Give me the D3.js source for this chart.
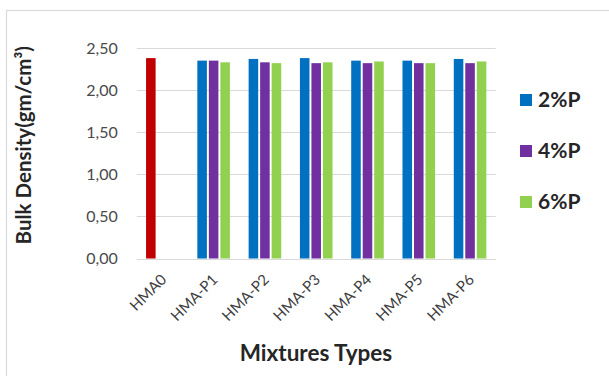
<!DOCTYPE html>
<html>
<head>
<meta charset="utf-8">
<script src="https://cdn.jsdelivr.net/npm/d3@7"></script>
<style>
  html, body { margin: 0; padding: 0; background: #fff; }
  svg { display: block; }
  text { font-family: Lato, "Open Sans", sans-serif; }
</style>
</head>
<body>
<svg id="chart" width="609" height="376"></svg>
<script>
// Bulk density of the control mix and the polymer-modified mixes
const categories = ["HMA0", "HMA-P1", "HMA-P2", "HMA-P3", "HMA-P4", "HMA-P5", "HMA-P6"];
const seriesNames = ["2%P", "4%P", "6%P"];
const p2 = [2.38, 2.35, 2.37, 2.38, 2.35, 2.35, 2.37];
const p4 = [null, 2.35, 2.33, 2.32, 2.32, 2.32, 2.32];
const p6 = [null, 2.33, 2.32, 2.33, 2.34, 2.32, 2.34];
const yTicks = [0, 0.5, 1.0, 1.5, 2.0, 2.5];
const seriesColors = ["#0070C0", "#7030A0", "#92D050"];
const controlColor = "#C00000";

const svg = d3.select("#chart");

// chart frame
svg.append("rect")
  .attr("x", 6.5).attr("y", 10.5)
  .attr("width", 640).attr("height", 400)
  .attr("fill", "none")
  .attr("stroke", "#D9D9D9")
  .attr("stroke-width", 1.2);

const plot = { left: 136.7, right: 495.7, top: 48, bottom: 258.5 };

const x0 = d3.scaleBand()
  .domain(categories)
  .range([plot.left, plot.right])
  .paddingInner(0.365)
  .paddingOuter(0.1825);

const x1 = d3.scaleBand()
  .domain(seriesNames)
  .range([0, x0.bandwidth()])
  .paddingInner(0.17);

const y = d3.scaleLinear().domain([0, 2.5]).range([plot.bottom, plot.top]);

// gridlines
svg.append("g")
  .selectAll("line")
  .data(yTicks)
  .join("line")
  .attr("x1", plot.left).attr("x2", plot.right)
  .attr("y1", d => Math.round(y(d)) + 0.5)
  .attr("y2", d => Math.round(y(d)) + 0.5)
  .attr("stroke", "#D9D9D9")
  .attr("stroke-width", 1.2);

// y axis labels (comma decimal separator)
const fmt = d => d3.format(".2f")(d).replace(".", ",");
const yAxis = d3.axisLeft(y).tickValues(yTicks).tickFormat(fmt).tickSize(0).tickPadding(19);
const yg = svg.append("g").attr("transform", `translate(${plot.left},0)`).call(yAxis);
yg.select(".domain").remove();
yg.selectAll("text")
  .attr("fill", "#4a4a4a")
  .style("font-size", "16px")
  .style("font-family", "Lato, sans-serif");

// bars
const rows = categories.map((c, i) => ({
  cat: c,
  vals: [p2[i], p4[i], p6[i]]
}));

const groups = svg.append("g")
  .selectAll("g")
  .data(rows)
  .join("g")
  .attr("transform", d => `translate(${x0(d.cat)},0)`);

groups.selectAll("rect")
  .data((d, i) => d.vals.map((v, k) => ({ v, k, ci: i })).filter(e => e.v != null))
  .join("rect")
  .attr("x", d => x1(seriesNames[d.k]))
  .attr("width", x1.bandwidth())
  .attr("y", d => y(d.v))
  .attr("height", d => y(0) - y(d.v))
  .attr("fill", d => d.ci === 0 ? controlColor : seriesColors[d.k]);

// x axis labels, rotated
const xAxis = d3.axisBottom(x0).tickSize(0).tickPadding(0);
const xg = svg.append("g").attr("transform", `translate(0,${plot.bottom})`).call(xAxis);
xg.select(".domain").remove();
xg.selectAll("text")
  .attr("fill", "#404040")
  .style("font-size", "15px")
  .style("font-family", "Lato, sans-serif")
  .attr("text-anchor", "end")
  .attr("dy", null)
  .attr("y", 0)
  .attr("transform", "translate(5,22) rotate(-45)");

// axis titles
svg.append("text")
  .attr("transform", `translate(31,${(plot.top + plot.bottom) / 2 - 8}) rotate(-90)`)
  .attr("text-anchor", "middle")
  .attr("fill", "#262626")
  .style("font-size", "20.5px")
  .style("font-weight", "bold")
  .text("Bulk Density(gm/cm³)");

svg.append("text")
  .attr("x", 316)
  .attr("y", 361)
  .attr("text-anchor", "middle")
  .attr("fill", "#262626")
  .style("font-size", "22.5px")
  .style("font-weight", "bold")
  .text("Mixtures Types");

// legend
const legend = svg.append("g")
  .selectAll("g")
  .data(seriesNames)
  .join("g")
  .attr("transform", (d, i) => `translate(520,${100 + i * 51})`);

legend.append("rect")
  .attr("x", 0).attr("y", -6)
  .attr("width", 12).attr("height", 12)
  .attr("fill", (d, i) => seriesColors[i]);

legend.append("text")
  .attr("x", 18).attr("y", 0)
  .attr("dy", "0.35em")
  .attr("fill", "#262626")
  .style("font-size", "21px")
  .style("font-weight", "bold")
  .text(d => d);
</script>
</body>
</html>
